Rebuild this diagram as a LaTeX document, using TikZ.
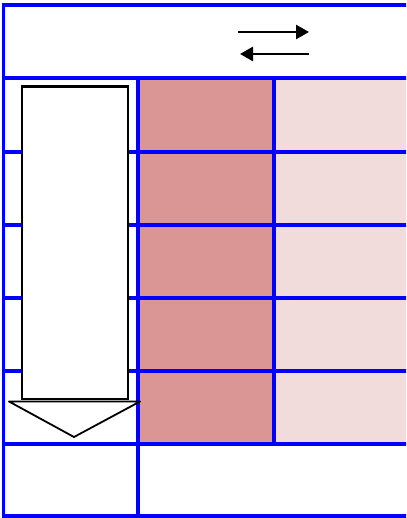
\documentclass[tikz,border=0pt]{standalone}
\usetikzlibrary{arrows.meta}
\definecolor{darkcell}{HTML}{DA9694}
\definecolor{lightcell}{HTML}{F2DCDB}
\definecolor{gridblue}{HTML}{0000FF}
\begin{document}
\begin{tikzpicture}[x=1pt,y=-1pt,
  gridline/.style={draw=gridblue,line width=3.2pt},
  bigbox/.style={draw=black,line width=2.6pt,fill=white},
  flowarrow/.style={draw=black,line width=2.6pt,-{Triangle[length=13pt,width=14pt]}}]
\useasboundingbox (0,0) rectangle (406,518);
\begin{scope}
\clip (0,0) rectangle (406,518);
% fills
\fill[darkcell] (138,78) rectangle (274,444);
\fill[lightcell] (274,78) rectangle (420,444);
% grid
\foreach \y in {5,78,152,225,298,371,444,516}
  \draw[gridline] (3.5,\y) -- (420,\y);
\draw[gridline] (3.5,3.4) -- (3.5,517.6);
\draw[gridline] (138,78) -- (138,516);
\draw[gridline] (274,78) -- (274,444);
\end{scope}
% down arrow shape
\node[bigbox,minimum width=106pt,minimum height=312pt,inner sep=0pt,anchor=north west] (bar) at (20.5,85.5) {};
\draw[black,line width=1.8pt,line join=round,fill=white] (9,401.5) -- (140,401.5) -- (74,437) -- cycle;
\coordinate (tip) at (74,437);
% arrows
\coordinate (r1) at (238,32);
\coordinate (r2) at (309,32);
\coordinate (l1) at (309,54);
\coordinate (l2) at (240,54);
\draw[flowarrow] (r1) -- (r2);
\draw[flowarrow] (l1) -- (l2);
\end{tikzpicture}
\end{document}
